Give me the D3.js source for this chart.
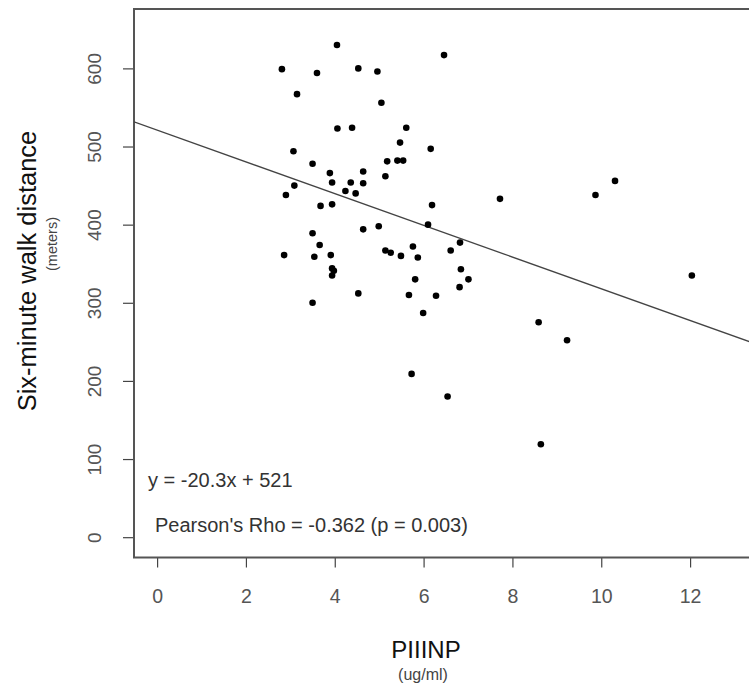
<!DOCTYPE html>
<html>
<head>
<meta charset="utf-8">
<script src="https://cdn.jsdelivr.net/npm/d3@7"></script>
<style>
  html, body { margin: 0; padding: 0; background: #fff; }
  svg { display: block; font-family: "Liberation Sans", Arial, Helvetica, sans-serif; }
</style>
</head>
<body>
<svg id="chart" width="749" height="692"></svg>
<script>
// PIIINP (ug/ml)
const piiinp = [4.05, 2.81, 3.60, 3.15, 4.06, 4.39, 3.07, 3.50, 3.89, 3.94, 3.09, 2.90, 4.24,
  6.46, 4.53, 4.96, 5.05, 5.61, 5.47, 6.16, 5.18, 5.41, 5.54, 4.64, 5.14, 4.36, 4.64, 4.47,
  7.72, 3.68, 3.94, 3.50, 3.66, 2.86, 3.54, 3.91, 3.94, 3.98, 3.94, 3.50, 4.53, 6.19, 4.64,
  4.99, 6.10, 6.82, 6.61, 5.14, 5.26, 5.49, 5.76, 5.87, 6.84, 7.01, 5.81, 6.81, 5.67, 6.28,
  5.99, 8.59, 5.73, 10.31, 9.87, 12.04, 9.23, 8.64, 6.54];
// Six-minute walk distance (meters)
const walkDistance = [630, 599, 594, 567, 523, 524, 494, 478, 466, 454, 450, 438, 443,
  617, 600, 596, 556, 524, 505, 497, 481, 482, 482, 468, 462, 454, 453, 440,
  433, 424, 426, 389, 374, 361, 359, 361, 344, 341, 335, 300, 312, 425, 394,
  398, 400, 377, 367, 367, 364, 360, 372, 358, 343, 330, 330, 320, 310, 309,
  287, 275, 209, 456, 438, 335, 252, 119, 180];
const xTicks = [0, 2, 4, 6, 8, 10, 12];
const yTicks = [0, 100, 200, 300, 400, 500, 600];
const fitSlope = -20.3;
const fitIntercept = 521;
const equationLabel = "y = -20.3x + 521";
const pearsonLabel = "Pearson's Rho = -0.362 (p = 0.003)";
const xTitle = "PIIINP";
const xUnit = "(ug/ml)";
const yTitle = "Six-minute walk distance";
const yUnit = "(meters)";

(function () {
const svg = d3.select("#chart");
const pL = 134, pR = 757.6, pT = 9, pB = 557.5;
const xDomain = [-0.52, 13.52];
const yDomain = [-26, 676];
const x = d3.scaleLinear().domain(xDomain).range([pL, pR]);
const y = d3.scaleLinear().domain(yDomain).range([pB, pT]);

svg.append("clipPath").attr("id", "plotclip")
  .append("rect").attr("x", pL).attr("y", pT).attr("width", pR - pL).attr("height", pB - pT);

// axes (R-style: ticks only at labelled values, no domain line)
const xAxis = svg.append("g").attr("transform", `translate(0,${pB})`)
  .call(d3.axisBottom(x).tickValues(xTicks).tickSize(10).tickFormat(d3.format("d")));
xAxis.select(".domain").remove();
xAxis.selectAll(".tick line").attr("stroke", "#444").attr("stroke-width", 1.2);
xAxis.selectAll(".tick text").attr("fill", "#555").attr("font-size", 19.5)
  .attr("dy", null).attr("y", 45.5);

const yAxis = svg.append("g").attr("transform", `translate(${pL},0)`)
  .call(d3.axisLeft(y).tickValues(yTicks).tickSize(11).tickFormat(d3.format("d")));
yAxis.select(".domain").remove();
yAxis.selectAll(".tick line").attr("stroke", "#444").attr("stroke-width", 1.2);
yAxis.selectAll(".tick text").attr("fill", "#555").attr("font-size", 19)
  .attr("x", null).attr("dy", null)
  .attr("text-anchor", "middle")
  .attr("transform", "translate(-33,0) rotate(-90)");

// box
svg.append("rect").attr("x", pL).attr("y", pT).attr("width", pR - pL).attr("height", pB - pT)
  .attr("fill", "none").attr("stroke", "#555").attr("stroke-width", 2);

// regression line
svg.append("line").attr("clip-path", "url(#plotclip)")
  .attr("x1", x(xDomain[0])).attr("y1", y(fitIntercept + fitSlope * xDomain[0]))
  .attr("x2", x(xDomain[1])).attr("y2", y(fitIntercept + fitSlope * xDomain[1]))
  .attr("stroke", "#444").attr("stroke-width", 1.4);

// points
svg.append("g").selectAll("circle").data(piiinp.map((v, i) => [v, walkDistance[i]]))
  .join("circle")
  .attr("cx", d => x(d[0])).attr("cy", d => y(d[1])).attr("r", 3.3).attr("fill", "#000");

// annotations
svg.append("text").attr("x", 148).attr("y", 487).attr("font-size", 20).attr("fill", "#333").text(equationLabel);
svg.append("text").attr("x", 155).attr("y", 532).attr("font-size", 20).attr("fill", "#333").text(pearsonLabel);

// axis titles
svg.append("text").attr("x", 426).attr("y", 658).attr("text-anchor", "middle").attr("font-size", 24).attr("fill", "#111").text(xTitle);
svg.append("text").attr("x", 423).attr("y", 680).attr("text-anchor", "middle").attr("font-size", 16).attr("fill", "#444").text(xUnit);
svg.append("text").attr("transform", "translate(36,271) rotate(-90)").attr("text-anchor", "middle").attr("font-size", 25.5).attr("fill", "#111").text(yTitle);
svg.append("text").attr("transform", "translate(57,244) rotate(-90)").attr("text-anchor", "middle").attr("font-size", 14.5).attr("fill", "#444").text(yUnit);
})();
</script>
</body>
</html>
